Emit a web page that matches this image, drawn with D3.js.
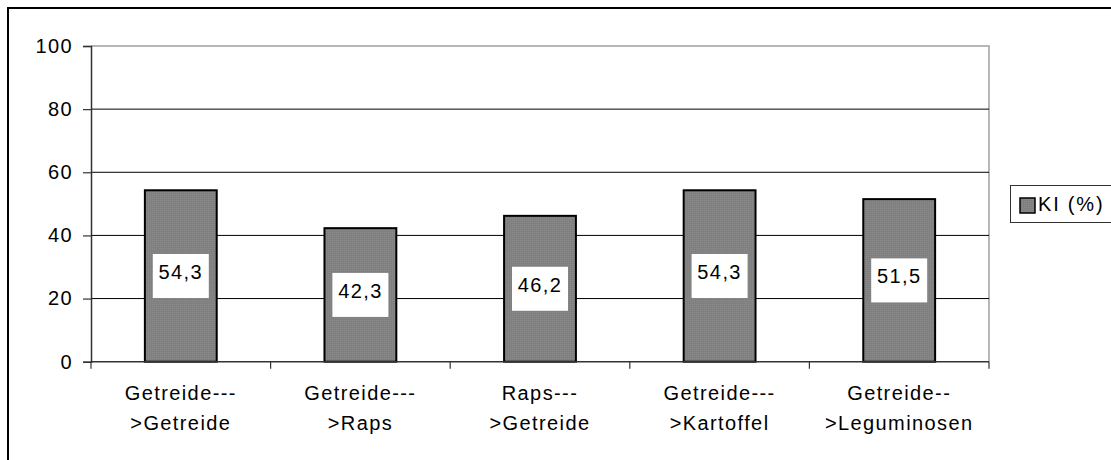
<!DOCTYPE html>
<html><head><meta charset="utf-8">
<script src="https://cdn.jsdelivr.net/npm/d3@7"></script>
<style>
html,body{margin:0;padding:0;background:#fff;}
svg text{font-family:"Liberation Sans",Arial,sans-serif;fill:#000;}
</style></head>
<body>
<svg id="c" width="1111" height="460"></svg>
<script>
const categories = [["Getreide---", ">Getreide"], ["Getreide---", ">Raps"], ["Raps---", ">Getreide"], ["Getreide---", ">Kartoffel"], ["Getreide--", ">Leguminosen"]];
const values = [54.3, 42.3, 46.2, 54.3, 51.5];
const valueLabels = ["54,3", "42,3", "46,2", "54,3", "51,5"];
const yTicks = [0, 20, 40, 60, 80, 100];
const seriesName = "KI (%)";

const svg = d3.select("#c");
const fs = 20, ls = "1.4px";

// outer frame (continues beyond the picture on the right and bottom)
svg.append("rect").attr("x", 8).attr("y", 8).attr("width", 1130).attr("height", 480)
  .attr("fill", "none").attr("stroke", "#000").attr("stroke-width", 2);

const L = 91, R = 989, T = 46, B = 361.7;
const x = d3.scaleBand().domain(d3.range(categories.length)).range([L, R]).paddingInner(0.6).paddingOuter(0.3);
const xTickScale = d3.scaleLinear().domain([0, categories.length]).range([L, R]);
const y = d3.scaleLinear().domain([0, 100]).range([B, T]);

// plot area border (gray top/right)
svg.append("path").attr("d", `M${L},${T}H${R}V${B}`).attr("fill", "none").attr("stroke", "#a0a0a0").attr("stroke-width", 1.5);

// gridlines
svg.append("g").selectAll("line").data(yTicks.filter(t => t > 0 && t < 100)).join("line")
  .attr("x1", L).attr("x2", R).attr("y1", d => y(d)).attr("y2", d => y(d))
  .attr("stroke", "#000").attr("stroke-width", 1);

// y axis
const yAxis = svg.append("g").attr("transform", `translate(${L},0)`)
  .call(d3.axisLeft(y).tickValues(yTicks).tickSize(8).tickPadding(10).tickFormat(d3.format("d")));
yAxis.select(".domain").attr("stroke", "#333").attr("stroke-width", 1.5);
yAxis.selectAll(".tick line").attr("stroke", "#333").attr("stroke-width", 1.2);
yAxis.selectAll("text").style("font-size", fs + "px").style("letter-spacing", ls).attr("fill", "#000");

// bars
const pat = svg.append("defs").append("pattern").attr("id", "dots").attr("width", 2).attr("height", 2).attr("patternUnits", "userSpaceOnUse");
pat.append("rect").attr("width", 2).attr("height", 2).attr("fill", "#808080");
pat.append("rect").attr("width", 1).attr("height", 1).attr("fill", "#8a8a8a");

svg.append("g").selectAll("rect").data(values).join("rect")
  .attr("x", (d, i) => x(i)).attr("width", x.bandwidth())
  .attr("y", d => y(d)).attr("height", d => y(0) - y(d))
  .attr("fill", "url(#dots)").attr("stroke", "#000").attr("stroke-width", 2);

// x axis
const xAxisG = svg.append("g").attr("transform", `translate(0,${B})`);
xAxisG.append("line").attr("x1", L).attr("x2", R).attr("stroke", "#333").attr("stroke-width", 1.5);
xAxisG.selectAll("line.tk").data(d3.range(categories.length + 1)).join("line").attr("class", "tk")
  .attr("x1", d => xTickScale(d)).attr("x2", d => xTickScale(d)).attr("y1", 0).attr("y2", 7)
  .attr("stroke", "#333").attr("stroke-width", 1.2);
const catG = xAxisG.selectAll("text.cat").data(categories).join("text").attr("class", "cat")
  .attr("text-anchor", "middle").style("font-size", fs + "px").style("letter-spacing", ls);
catG.selectAll("tspan").data((d, i) => d.map(t => ({ t, i }))).join("tspan")
  .attr("x", d => x(d.i) + x.bandwidth() / 2)
  .attr("y", (d, j) => 38 + j * 30)
  .text(d => d.t);

// value labels with white boxes
const lab = svg.append("g").selectAll("g").data(values).join("g")
  .attr("transform", (d, i) => `translate(${x(i) + x.bandwidth() / 2},${(y(d) + y(0)) / 2})`);
lab.append("rect").attr("x", -28).attr("y", -22).attr("width", 56).attr("height", 44).attr("fill", "#fff");
lab.append("text").attr("text-anchor", "middle").attr("y", 3).style("font-size", fs + "px").style("letter-spacing", ls)
  .text((d, i) => valueLabels[i]);

// legend
const lg = svg.append("g").attr("transform", "translate(1010,185)");
lg.append("rect").attr("x", 0.5).attr("y", 0.5).attr("width", 120).attr("height", 37)
  .attr("fill", "#fff").attr("stroke", "#333").attr("stroke-width", 1);
lg.append("rect").attr("x", 10).attr("y", 13).attr("width", 15).attr("height", 15)
  .attr("fill", "url(#dots)").attr("stroke", "#000").attr("stroke-width", 1.5);
lg.append("text").attr("x", 28).attr("y", 26).style("font-size", fs + "px").style("letter-spacing", "1.8px").text(seriesName);
</script>
</body></html>
